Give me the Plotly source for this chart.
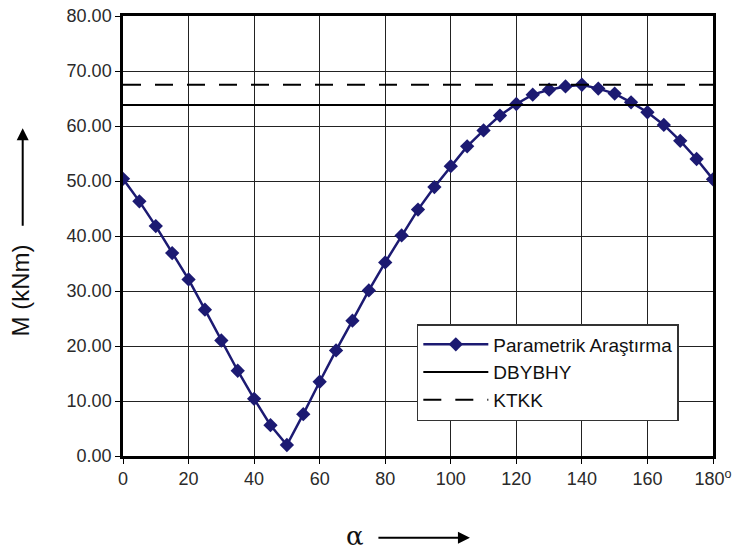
import plotly.graph_objects as go

alpha = list(range(0, 181, 5))
moment = [50.4, 46.3, 41.8, 36.9, 32.1, 26.6, 21.0, 15.5, 10.4, 5.6, 2.0,
          7.6, 13.5, 19.2, 24.6, 30.1, 35.2, 40.1, 44.8, 48.9, 52.7,
          56.3, 59.2, 61.9, 64.0, 65.7, 66.6, 67.2, 67.5, 66.8, 65.9,
          64.3, 62.5, 60.2, 57.3, 54.0, 50.3]
dbybhy = 63.8
ktkk = 67.5
x_ticks = [0, 20, 40, 60, 80, 100, 120, 140, 160, 180]
x_tick_text = ["0", "20", "40", "60", "80", "100", "120", "140", "160", "180<sup>o</sup>"]
y_ticks = [0, 10, 20, 30, 40, 50, 60, 70, 80]

navy = "#1c1a72"
font = "Liberation Sans, Arial, sans-serif"

fig = go.Figure()
fig.add_trace(go.Scatter(x=alpha, y=moment, mode="lines+markers", name="Parametrik Araştırma",
                         legendgroup="a",
                         line=dict(color=navy, width=2.5),
                         marker=dict(symbol="diamond", size=11, color=navy)))
fig.add_trace(go.Scatter(x=[0, 180], y=[dbybhy, dbybhy], mode="lines", name="DBYBHY",
                         legendgroup="b",
                         line=dict(color="black", width=2)))
fig.add_trace(go.Scatter(x=[0, 180], y=[ktkk, ktkk], mode="lines", name="KTKK",
                         legendgroup="c",
                         line=dict(color="black", width=2, dash="18px,14px")))

fig.update_layout(
    width=739, height=551,
    margin=dict(l=123, r=26, t=16, b=95, autoexpand=False),
    paper_bgcolor="white", plot_bgcolor="white",
    font=dict(family=font, size=18, color="#2a2a2a"),
    showlegend=True,
    legend=dict(x=0.498, y=0.30, xanchor="left", yanchor="top",
                bgcolor="white", bordercolor="#333", borderwidth=1.5,
                font=dict(size=19, color="#111"), tracegroupgap=20,
                itemwidth=65, traceorder="normal"),
    xaxis=dict(range=[0, 180], tickvals=x_ticks, ticktext=x_tick_text,
               showgrid=True, gridcolor="#222", gridwidth=1,
               showline=True, linecolor="black", linewidth=2.5, mirror=True,
               ticks="outside", ticklen=5, tickcolor="black", zeroline=False,
               automargin=False, tickfont=dict(size=18)),
    yaxis=dict(range=[0, 80], tickvals=y_ticks, tickformat=".2f",
               showgrid=True, gridcolor="#222", gridwidth=1,
               showline=True, linecolor="black", linewidth=2.5, mirror=True,
               ticks="outside", ticklen=5, tickcolor="black", zeroline=False,
               automargin=False, tickfont=dict(size=18)),
    annotations=[
        dict(text="M (kNm)", xref="paper", yref="paper", x=-0.174, y=0.377,
             textangle=-90, showarrow=False, font=dict(size=24, color="#111"),
             xanchor="center", yanchor="middle"),
        dict(text="", xref="paper", yref="paper", x=-0.17, y=0.745,
             ax=0, ay=99, showarrow=True, arrowhead=2, arrowsize=1.2,
             arrowwidth=2, arrowcolor="black"),
        dict(text="α", xref="paper", yref="paper", x=0.393, y=-0.181,
             showarrow=False, font=dict(size=26, color="#111", family="DejaVu Serif"),
             xanchor="center", yanchor="middle"),
        dict(text="", xref="paper", yref="paper", x=0.588, y=-0.186,
             ax=-93, ay=0, showarrow=True, arrowhead=2, arrowsize=1.2,
             arrowwidth=2, arrowcolor="black"),
    ],
)

fig.write_html("out.html", config={"displayModeBar": False},
               post_script="document.body.style.margin='0';")
